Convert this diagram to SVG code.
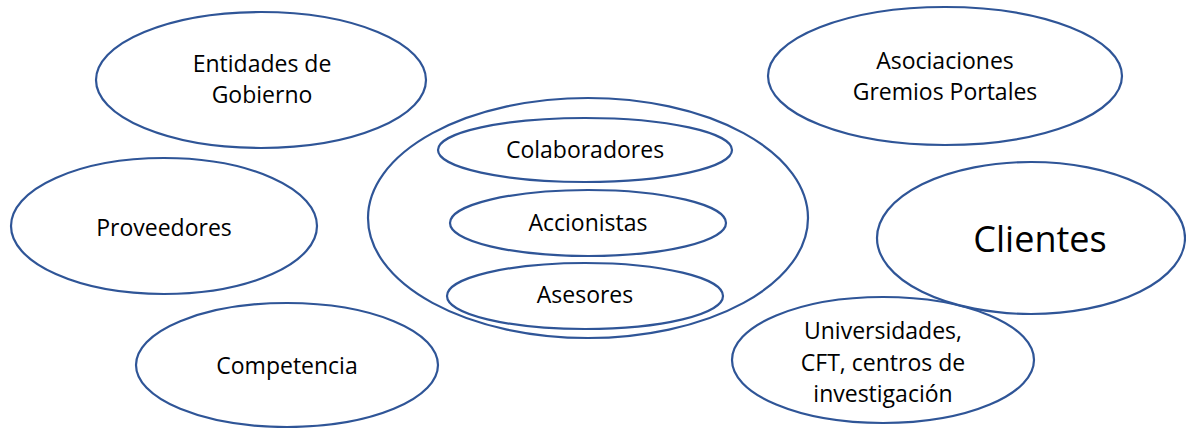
<svg xmlns="http://www.w3.org/2000/svg" width="1186" height="428" viewBox="0 0 1186 428">
<style>
.n{fill:none;stroke:#2F5597;stroke-width:2.2}
.t{font-family:"Open Sans","Noto Sans",sans-serif;font-size:23px;fill:#000;text-anchor:middle}
.big{font-size:36px}
</style>
<rect width="1186" height="428" fill="#fff"/>
<g id="entidades"><ellipse class="n" cx="261" cy="80" rx="165" ry="68"/><text class="t" x="262" y="72">Entidades de</text><text class="t" x="262" y="103">Gobierno</text></g>
<g id="asociaciones"><ellipse class="n" cx="945" cy="76" rx="177" ry="69"/><text class="t" x="945" y="69">Asociaciones</text><text class="t" x="945" y="100">Gremios Portales</text></g>
<g id="proveedores"><ellipse class="n" cx="164" cy="226" rx="153" ry="68"/><text class="t" x="164" y="236">Proveedores</text></g>
<g id="interno"><ellipse class="n" cx="588" cy="218" rx="220" ry="120"/></g>
<g id="colaboradores"><ellipse class="n" cx="585" cy="150" rx="147" ry="32"/><text class="t" x="585" y="158">Colaboradores</text></g>
<g id="accionistas"><ellipse class="n" cx="588" cy="223" rx="138" ry="33"/><text class="t" x="588" y="231">Accionistas</text></g>
<g id="asesores"><ellipse class="n" cx="585" cy="296" rx="138" ry="33"/><text class="t" x="585" y="303">Asesores</text></g>
<g id="clientes"><ellipse class="n" cx="1031" cy="238" rx="154" ry="76"/><text class="t big" x="1040" y="252">Clientes</text></g>
<g id="competencia"><ellipse class="n" cx="287" cy="365" rx="151" ry="62"/><text class="t" x="287" y="374">Competencia</text></g>
<g id="universidades"><ellipse class="n" cx="883" cy="360" rx="151" ry="63"/><text class="t" x="883" y="339">Universidades,</text><text class="t" x="883" y="371">CFT, centros de</text><text class="t" x="883" y="402">investigación</text></g>
<g id="connectors"/>
</svg>
